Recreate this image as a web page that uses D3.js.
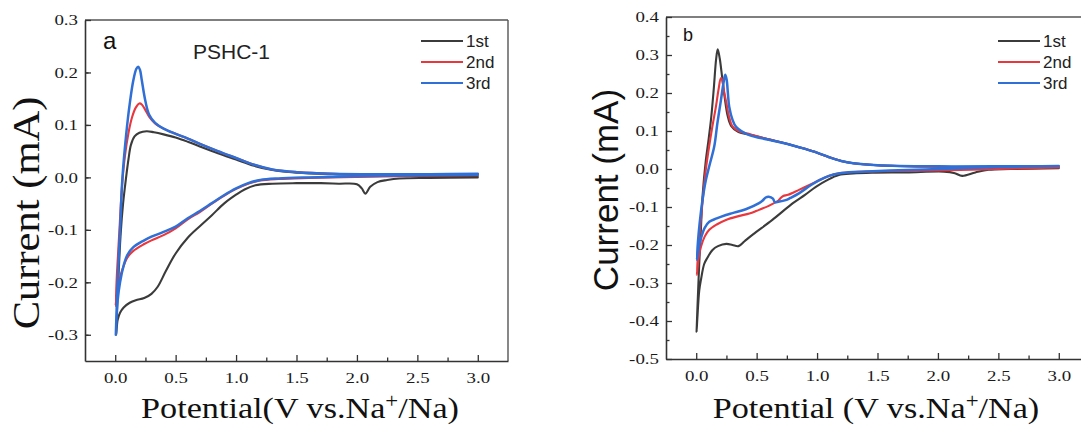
<!DOCTYPE html>
<html><head><meta charset="utf-8">
<script src="https://cdn.jsdelivr.net/npm/d3@7"></script>
<style>body{margin:0;background:#fff}svg{display:block}</style>
</head><body>
<svg id="chart" width="1081" height="430"></svg>
<script>
// ---------- data ----------
const seriesNames = ["1st", "2nd", "3rd"];
const xTickValues = [0, 0.5, 1.0, 1.5, 2.0, 2.5, 3.0];
const xTickLabels = ["0.0", "0.5", "1.0", "1.5", "2.0", "2.5", "3.0"];
const yTickValuesA = [-0.3, -0.2, -0.1, 0.0, 0.1, 0.2, 0.3];
const yTickLabelsA = ["-0.3", "-0.2", "-0.1", "0.0", "0.1", "0.2", "0.3"];
const yTickValuesB = [-0.5, -0.4, -0.3, -0.2, -0.1, 0.0, 0.1, 0.2, 0.3, 0.4];
const yTickLabelsB = ["-0.5", "-0.4", "-0.3", "-0.2", "-0.1", "0.0", "0.1", "0.2", "0.3", "0.4"];

// Panel a (PSHC-1): [potential V, current mA], cathodic scan 3.0 -> 0 then anodic 0 -> 3.0
const a1st = [[3.0,0.000],[2.6,-0.001],[2.35,-0.002],[2.25,-0.005],[2.17,-0.009],[2.11,-0.018],[2.07,-0.031],[2.04,-0.021],[2.0,-0.013],[1.85,-0.012],[1.7,-0.011],[1.5,-0.011],[1.3,-0.012],[1.16,-0.015],[1.07,-0.023],[1.0,-0.033],[0.9,-0.05],[0.8,-0.072],[0.7,-0.093],[0.6,-0.115],[0.5,-0.145],[0.42,-0.178],[0.35,-0.209],[0.3,-0.222],[0.24,-0.23],[0.17,-0.234],[0.12,-0.239],[0.07,-0.248],[0.04,-0.258],[0.02,-0.272],[0.008,-0.3],
  [0.025,-0.2],[0.045,-0.108],[0.065,-0.05],[0.09,0.0],[0.11,0.035],[0.13,0.062],[0.16,0.078],[0.2,0.085],[0.26,0.088],[0.32,0.086],[0.4,0.082],[0.5,0.076],[0.6,0.068],[0.7,0.059],[0.85,0.046],[1.0,0.034],[1.15,0.022],[1.3,0.014],[1.5,0.009],[1.8,0.006],[2.2,0.004],[2.6,0.002],[3.0,0.001]];
const a2nd = [[3.0,0.004],[2.5,0.003],[2.0,0.001],[1.6,-0.001],[1.35,-0.003],[1.2,-0.006],[1.1,-0.012],[1.0,-0.022],[0.9,-0.035],[0.8,-0.05],[0.7,-0.066],[0.6,-0.08],[0.5,-0.097],[0.4,-0.11],[0.3,-0.12],[0.24,-0.127],[0.15,-0.14],[0.1,-0.153],[0.06,-0.175],[0.03,-0.2],[0.012,-0.225],[0.003,-0.245],
  [0.015,-0.18],[0.035,-0.1],[0.055,-0.02],[0.08,0.04],[0.11,0.085],[0.14,0.115],[0.17,0.133],[0.2,0.141],[0.22,0.139],[0.25,0.128],[0.28,0.116],[0.33,0.103],[0.4,0.093],[0.5,0.083],[0.6,0.074],[0.7,0.064],[0.85,0.05],[1.0,0.037],[1.15,0.024],[1.3,0.015],[1.5,0.01],[1.8,0.007],[2.2,0.006],[2.6,0.006],[3.0,0.006]];
const a3rd = [[3.0,0.005],[2.5,0.004],[2.0,0.002],[1.6,0.0],[1.35,-0.002],[1.2,-0.005],[1.1,-0.011],[1.0,-0.021],[0.9,-0.034],[0.8,-0.049],[0.7,-0.064],[0.6,-0.078],[0.5,-0.094],[0.4,-0.104],[0.3,-0.113],[0.24,-0.12],[0.15,-0.133],[0.1,-0.148],[0.07,-0.168],[0.04,-0.2],[0.02,-0.235],[0.005,-0.3],
  [0.02,-0.2],[0.04,-0.1],[0.06,0.0],[0.09,0.08],[0.12,0.14],[0.15,0.185],[0.175,0.207],[0.19,0.211],[0.205,0.205],[0.22,0.185],[0.25,0.145],[0.28,0.12],[0.33,0.104],[0.4,0.093],[0.5,0.083],[0.6,0.074],[0.7,0.064],[0.85,0.05],[1.0,0.037],[1.15,0.024],[1.3,0.015],[1.5,0.01],[1.8,0.007],[2.2,0.006],[2.6,0.006],[3.0,0.007]];

// Panel b
const b1st = [[3.0,0.002],[2.6,0.0],[2.42,-0.002],[2.31,-0.009],[2.2,-0.018],[2.14,-0.011],[2.05,-0.007],[1.74,-0.009],[1.46,-0.01],[1.3,-0.012],[1.18,-0.016],[1.08,-0.03],[0.99,-0.047],[0.9,-0.068],[0.8,-0.09],[0.63,-0.134],[0.47,-0.172],[0.4,-0.19],[0.35,-0.203],[0.3,-0.2],[0.25,-0.197],[0.18,-0.203],[0.135,-0.213],[0.09,-0.235],[0.066,-0.25],[0.04,-0.29],[0.025,-0.32],[0.01,-0.39],[0.003,-0.428],
  [0.012,-0.35],[0.025,-0.25],[0.04,-0.15],[0.052,-0.073],[0.08,0.024],[0.1,0.072],[0.122,0.129],[0.145,0.21],[0.165,0.29],[0.178,0.315],[0.195,0.29],[0.215,0.24],[0.235,0.19],[0.26,0.14],[0.29,0.113],[0.35,0.097],[0.45,0.09],[0.6,0.078],[0.8,0.062],[0.9,0.053],[1.0,0.043],[1.1,0.031],[1.2,0.021],[1.3,0.015],[1.5,0.01],[2.0,0.006],[2.5,0.004],[3.0,0.003]];
const b2nd = [[3.0,0.004],[2.5,0.0],[2.0,-0.004],[1.5,-0.006],[1.3,-0.008],[1.18,-0.011],[1.1,-0.018],[1.02,-0.029],[0.95,-0.04],[0.85,-0.055],[0.76,-0.068],[0.72,-0.071],[0.7,-0.076],[0.68,-0.083],[0.6,-0.097],[0.5,-0.11],[0.44,-0.117],[0.35,-0.124],[0.246,-0.134],[0.17,-0.146],[0.108,-0.16],[0.07,-0.178],[0.04,-0.204],[0.02,-0.235],[0.005,-0.279],
  [0.02,-0.2],[0.04,-0.13],[0.06,-0.06],[0.08,0.0],[0.1,0.045],[0.13,0.105],[0.163,0.164],[0.185,0.21],[0.204,0.239],[0.215,0.235],[0.23,0.205],[0.25,0.173],[0.27,0.14],[0.3,0.112],[0.35,0.1],[0.45,0.091],[0.6,0.078],[0.8,0.062],[0.9,0.053],[1.0,0.043],[1.1,0.031],[1.2,0.021],[1.3,0.015],[1.5,0.01],[2.0,0.006],[2.5,0.005],[3.0,0.006]];
const b3rd = [[3.0,0.008],[2.5,0.005],[2.0,0.0],[1.6,-0.004],[1.46,-0.006],[1.3,-0.008],[1.18,-0.012],[1.1,-0.018],[1.02,-0.029],[0.95,-0.042],[0.85,-0.064],[0.78,-0.076],[0.74,-0.082],[0.68,-0.086],[0.65,-0.087],[0.635,-0.078],[0.6,-0.073],[0.575,-0.075],[0.55,-0.083],[0.52,-0.09],[0.41,-0.106],[0.3,-0.116],[0.246,-0.121],[0.17,-0.13],[0.108,-0.139],[0.07,-0.155],[0.04,-0.182],[0.02,-0.21],[0.005,-0.239],
  [0.02,-0.17],[0.04,-0.11],[0.06,-0.065],[0.08,-0.029],[0.11,0.01],[0.149,0.059],[0.175,0.12],[0.204,0.18],[0.225,0.225],[0.24,0.248],[0.252,0.235],[0.262,0.2],[0.273,0.164],[0.3,0.13],[0.33,0.111],[0.44,0.089],[0.6,0.077],[0.8,0.062],[0.9,0.053],[1.0,0.043],[1.1,0.031],[1.2,0.021],[1.3,0.015],[1.5,0.01],[2.0,0.007],[2.5,0.007],[3.0,0.008]];

// ---------- styles ----------
const colors = ["#3b3b3b", "#e8373d", "#2f6fd6"];
const widths = [2.1, 2.1, 2.5];
const serif = "'Liberation Serif','Times New Roman',serif";
const sans = "'Liberation Sans',Arial,sans-serif";
const axisColor = "#333";

const svg = d3.select("#chart");

function panel(opt) {
  const x = d3.scaleLinear().domain([-0.25, 3.25]).range([opt.left, opt.right]);
  const y = d3.scaleLinear().domain(opt.yDomain).range([opt.bottom, opt.top]);
  const g = svg.append("g");

  // frame (top / right)
  g.append("line").attr("x1", x.range()[0]).attr("x2", x.range()[1]).attr("y1", y.range()[1]).attr("y2", y.range()[1])
    .attr("stroke", "#555").attr("stroke-width", 1.4);
  g.append("line").attr("x1", x.range()[1]).attr("x2", x.range()[1]).attr("y1", y.range()[0]).attr("y2", y.range()[1])
    .attr("stroke", "#555").attr("stroke-width", 1.4);

  // minor ticks
  const xMinor = [0.25, 0.75, 1.25, 1.75, 2.25, 2.75];
  const yMinor = d3.range(Math.round(opt.yDomain[0]*100)+5, Math.round(opt.yDomain[1]*100), 10).map(v => v/100);
  g.append("g").attr("transform", `translate(0,${y.range()[0]})`)
    .call(d3.axisBottom(x).tickValues(xMinor).tickSizeInner(-3.5).tickSizeOuter(0).tickFormat(""))
    .call(s => s.select(".domain").remove())
    .call(s => s.selectAll("line").attr("stroke", axisColor).attr("stroke-width", 1.3));
  g.append("g").attr("transform", `translate(${x.range()[0]},0)`)
    .call(d3.axisLeft(y).tickValues(yMinor).tickSizeInner(-3.5).tickSizeOuter(0).tickFormat(""))
    .call(s => s.select(".domain").remove())
    .call(s => s.selectAll("line").attr("stroke", axisColor).attr("stroke-width", 1.3));

  // major axes
  const sx = 1.22;
  g.append("g").attr("transform", `translate(0,${y.range()[0]})`)
    .call(d3.axisBottom(x).tickValues(xTickValues).tickFormat((d, i) => xTickLabels[i]).tickSizeInner(-6).tickSizeOuter(0).tickPadding(11))
    .call(s => s.select(".domain").attr("stroke", axisColor).attr("stroke-width", 1.6))
    .call(s => s.selectAll(".tick line").attr("stroke", axisColor).attr("stroke-width", 1.3))
    .call(s => s.selectAll("text").attr("font-family", serif).attr("font-size", 15.5).attr("fill", "#1a1a1a")
      .attr("transform", `scale(${sx},1)`));
  g.append("g").attr("transform", `translate(${x.range()[0]},0)`)
    .call(d3.axisLeft(y).tickValues(opt.yTicks).tickFormat((d, i) => opt.yLabels[i]).tickSizeInner(-6).tickSizeOuter(0).tickPadding(7))
    .call(s => s.select(".domain").attr("stroke", axisColor).attr("stroke-width", 1.6))
    .call(s => s.selectAll(".tick line").attr("stroke", axisColor).attr("stroke-width", 1.3))
    .call(s => s.selectAll("text").attr("font-family", serif).attr("font-size", 15.5).attr("fill", "#1a1a1a")
      .attr("x", -7 / sx).attr("transform", `scale(${sx},1)`));

  // curves
  const line = d3.line().x(d => x(d[0])).y(d => y(d[1])).curve(d3.curveCatmullRom.alpha(0.5));
  opt.series.forEach((s, i) => {
    g.append("path").attr("d", line(s)).attr("fill", "none").attr("stroke", colors[i])
      .attr("stroke-width", widths[i]).attr("stroke-linejoin", "round").attr("stroke-linecap", "round");
  });

  // legend
  seriesNames.forEach((n, i) => {
    g.append("line").attr("x1", opt.legX).attr("x2", opt.legX + 42).attr("y1", 41 + 21 * i).attr("y2", 41 + 21 * i)
      .attr("stroke", colors[i]).attr("stroke-width", 2.2);
    g.append("text").attr("x", opt.legX + 45).attr("y", 47 + 21 * i).attr("font-family", sans).attr("font-size", 17)
      .attr("fill", "#222").text(n);
  });

  // x title
  const xt = g.append("text").attr("transform", `translate(${opt.xTitleX},418) scale(1.14,1)`)
    .attr("text-anchor", "middle").attr("font-family", serif).attr("font-size", 30).attr("fill", "#111");
  xt.append("tspan").text(opt.xTitle);
  xt.append("tspan").attr("dy", -10).attr("font-size", 20).text("+");
  xt.append("tspan").attr("dy", 10).text("/Na)");

  return g;
}

const ga = panel({
  left: 85, right: 508, top: 20, bottom: 361, yDomain: [-0.35, 0.3],
  yTicks: yTickValuesA, yLabels: yTickLabelsA, series: [a1st, a2nd, a3rd],
  legX: 421, xTitleX: 300, xTitle: "Potential(V vs.Na"
});
ga.append("text").attr("transform", "translate(39,213) rotate(-90) scale(1.15,1)").attr("text-anchor", "middle")
  .attr("font-family", serif).attr("font-size", 37).attr("fill", "#111").text("Current (mA)");
ga.append("text").attr("x", 103).attr("y", 49).attr("font-family", sans).attr("font-size", 24).attr("fill", "#111").text("a");
ga.append("text").attr("x", 193).attr("y", 59).attr("font-family", sans).attr("font-size", 21).attr("fill", "#222").text("PSHC-1");

const gb = panel({
  left: 666, right: 1089, top: 17, bottom: 359, yDomain: [-0.5, 0.4],
  yTicks: yTickValuesB, yLabels: yTickLabelsB, series: [b1st, b2nd, b3rd],
  legX: 998, xTitleX: 876, xTitle: "Potential (V vs.Na"
});
gb.append("text").attr("transform", "translate(618,190) rotate(-90)").attr("text-anchor", "middle")
  .attr("font-family", sans).attr("font-size", 35).attr("fill", "#111").text("Current (mA)");
gb.append("text").attr("x", 683).attr("y", 41).attr("font-family", sans).attr("font-size", 18).attr("fill", "#111").text("b");
</script>
</body></html>
